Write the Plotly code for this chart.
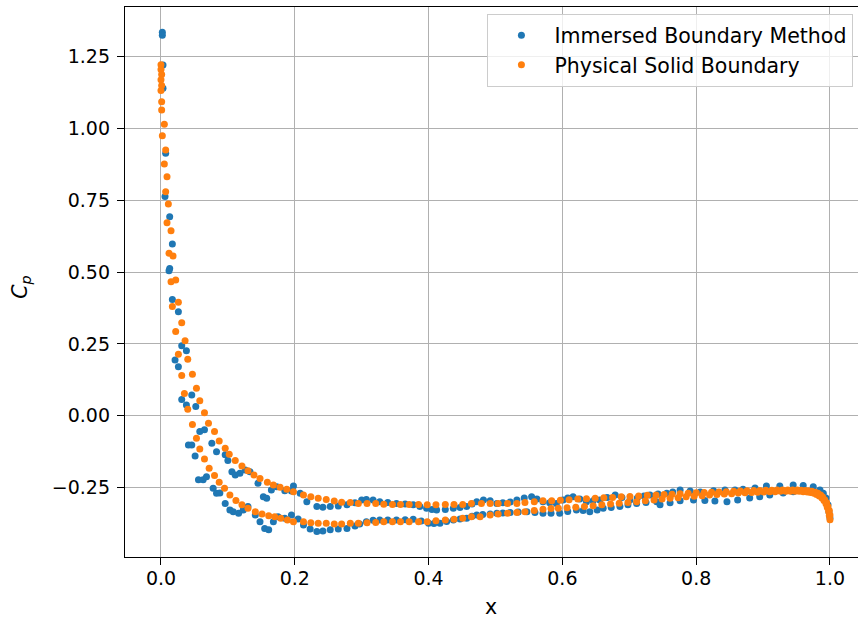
import plotly.graph_objects as go

# ---------------- data ----------------
# Physical Solid Boundary, branch with higher Cp (incl. leading-edge cluster)
psb_a_x = [0.000, 0.000, 0.001, 0.000, 0.001, 0.000, 0.001, 0.001, 0.005, 0.002,
           0.007, 0.005, 0.009, 0.007, 0.011, 0.009, 0.015, 0.012, 0.018,
           0.022, 0.026, 0.031, 0.036, 0.040, 0.047, 0.053, 0.058, 0.065, 0.071,
           0.080, 0.087, 0.096, 0.102, 0.111, 0.121, 0.130, 0.139, 0.148, 0.159,
           0.168, 0.178, 0.188, 0.198, 0.213, 0.224, 0.235, 0.247, 0.259, 0.270,
           0.283, 0.295, 0.308, 0.321, 0.333, 0.346, 0.358, 0.371, 0.385, 0.398,
           0.411, 0.425, 0.438, 0.451, 0.464, 0.479, 0.492, 0.504, 0.518, 0.532,
           0.544, 0.558, 0.571, 0.584,
           0.597, 0.610, 0.623, 0.636, 0.649, 0.662, 0.675, 0.688, 0.701, 0.714,
           0.727, 0.740, 0.752, 0.764, 0.776, 0.788, 0.800, 0.812, 0.823, 0.834,
           0.845, 0.856, 0.866, 0.876, 0.886, 0.895, 0.904, 0.913, 0.921, 0.929,
           0.937, 0.944, 0.951, 0.957, 0.963, 0.968, 0.973, 0.978, 0.982, 0.986,
           0.989, 0.992, 0.995, 0.997, 0.999, 1.000]
psb_a_cp = [1.222, 1.205, 1.188, 1.170, 1.150, 1.132, 1.093, 1.064, 1.015, 0.975,
            0.925, 0.876, 0.832, 0.780, 0.737, 0.672, 0.644, 0.566, 0.556,
            0.473, 0.395, 0.324, 0.261, 0.197, 0.145, 0.096, 0.052, 0.011, -0.026,
            -0.055, -0.088, -0.113, -0.134, -0.156, -0.175, -0.191, -0.206, -0.218, -0.231,
            -0.241, -0.249, -0.256, -0.264, -0.276, -0.282, -0.287, -0.291, -0.297, -0.301,
            -0.302, -0.305, -0.305, -0.305, -0.308, -0.309, -0.309, -0.309, -0.309, -0.310,
            -0.310, -0.309, -0.309, -0.309, -0.305, -0.305, -0.305, -0.305, -0.305, -0.305,
            -0.302, -0.299, -0.296, -0.296,
            -0.294, -0.292, -0.290, -0.289, -0.287, -0.285, -0.284, -0.282, -0.281, -0.279,
            -0.277, -0.276, -0.274, -0.273, -0.271, -0.270, -0.268, -0.267, -0.266, -0.265,
            -0.264, -0.263, -0.262, -0.261, -0.260, -0.260, -0.259, -0.259, -0.258, -0.258,
            -0.258, -0.258, -0.258, -0.259, -0.260, -0.261, -0.263, -0.266, -0.270, -0.276,
            -0.283, -0.292, -0.303, -0.316, -0.330, -0.345]

# Physical Solid Boundary, branch with lower Cp
psb_b_x = [0.015, 0.017, 0.022, 0.026, 0.031, 0.035, 0.040, 0.047, 0.053, 0.058,
           0.065, 0.072, 0.080, 0.087, 0.095, 0.103, 0.112, 0.121, 0.130, 0.141,
           0.151, 0.161, 0.170, 0.179, 0.189, 0.198, 0.213, 0.224, 0.235, 0.247,
           0.259, 0.270, 0.283, 0.295, 0.308, 0.321, 0.333, 0.346, 0.358, 0.371,
           0.385, 0.398, 0.411, 0.425, 0.438, 0.451, 0.464, 0.477, 0.492, 0.504,
           0.518, 0.532, 0.544, 0.558, 0.571, 0.583, 0.594,
           0.607, 0.620, 0.633, 0.646, 0.659, 0.672, 0.685, 0.698, 0.711, 0.724,
           0.737, 0.749, 0.761, 0.773, 0.785, 0.797, 0.809, 0.820, 0.831, 0.842,
           0.853, 0.863, 0.873, 0.883, 0.892, 0.901, 0.910, 0.918, 0.926, 0.934,
           0.941, 0.948, 0.954, 0.960, 0.966, 0.971, 0.976, 0.980, 0.984, 0.988,
           0.991, 0.994, 0.996, 0.998, 0.999, 1.000]
psb_b_cp = [0.467, 0.380, 0.293, 0.214, 0.140, 0.078, 0.023, -0.030, -0.078, -0.116,
            -0.150, -0.183, -0.208, -0.231, -0.252, -0.276, -0.295, -0.310, -0.322, -0.334,
            -0.342, -0.348, -0.351, -0.357, -0.363, -0.369, -0.369, -0.372, -0.374, -0.374,
            -0.377, -0.377, -0.374, -0.374, -0.372, -0.371, -0.369, -0.369, -0.369, -0.369,
            -0.369, -0.369, -0.365, -0.363, -0.360, -0.357, -0.351, -0.351, -0.345, -0.342,
            -0.339, -0.337, -0.334, -0.330, -0.325, -0.323, -0.322,
            -0.320, -0.318, -0.316, -0.313, -0.310, -0.307, -0.304, -0.302, -0.299, -0.296,
            -0.293, -0.290, -0.287, -0.285, -0.282, -0.280, -0.278, -0.276, -0.274, -0.272,
            -0.271, -0.269, -0.268, -0.267, -0.266, -0.265, -0.264, -0.264, -0.263, -0.263,
            -0.263, -0.263, -0.263, -0.264, -0.265, -0.267, -0.270, -0.274, -0.279, -0.286,
            -0.295, -0.306, -0.319, -0.333, -0.348, -0.362]

# Immersed Boundary Method, leading-edge region
ibm_le_x = [0.002, 0.002, 0.003, 0.003, 0.007, 0.006, 0.013, 0.017, 0.013, 0.012,
            0.017, 0.026, 0.031, 0.038, 0.021, 0.026, 0.031, 0.038, 0.046, 0.052,
            0.058, 0.065, 0.041, 0.046, 0.051, 0.076, 0.083, 0.096, 0.056, 0.063,
            0.068, 0.078, 0.083, 0.088, 0.100, 0.106, 0.111, 0.118, 0.126, 0.133,
            0.145, 0.153, 0.158, 0.165, 0.173, 0.185, 0.195]
ibm_le_cp = [1.335, 1.325, 1.221, 1.140, 0.914, 0.763, 0.693, 0.598, 0.513, 0.505,
             0.405, 0.362, 0.244, 0.226, 0.194, 0.171, 0.057, 0.038, 0.072, 0.032,
             -0.055, -0.049, -0.102, -0.102, -0.140, -0.096, -0.125, -0.136, -0.223, -0.223,
             -0.212, -0.252, -0.270, -0.269, -0.156, -0.195, -0.206, -0.200, -0.189, -0.195,
             -0.235, -0.282, -0.287, -0.258, -0.247, -0.261, -0.262]

# Immersed Boundary Method, higher-Cp branch downstream
ibm_a_x = [0.198, 0.208, 0.218, 0.233, 0.242, 0.253, 0.265, 0.278, 0.290, 0.300,
           0.307, 0.317, 0.327, 0.339, 0.352, 0.365, 0.377, 0.387, 0.397, 0.405,
           0.412, 0.425, 0.437, 0.447, 0.457, 0.465, 0.472, 0.482, 0.492, 0.502,
           0.511, 0.522, 0.532, 0.543, 0.554, 0.562, 0.571, 0.581, 0.591, 0.601,
           0.608, 0.616, 0.626, 0.636, 0.646, 0.656, 0.667, 0.679, 0.689, 0.701,
           0.712, 0.722, 0.731, 0.743, 0.756, 0.765, 0.776, 0.791, 0.806, 0.826,
           0.843, 0.858, 0.870, 0.888, 0.905, 0.925, 0.945, 0.960, 0.975, 0.985,
           0.990, 0.994, 0.997, 0.9985, 1.000]
ibm_a_cp = [-0.244, -0.270, -0.299, -0.316, -0.318, -0.316, -0.314, -0.310, -0.303, -0.293,
            -0.291, -0.293, -0.299, -0.302, -0.305, -0.307, -0.310, -0.316, -0.322, -0.326,
            -0.328, -0.326, -0.322, -0.319, -0.316, -0.307, -0.299, -0.293, -0.296, -0.305,
            -0.303, -0.300, -0.293, -0.286, -0.282, -0.290, -0.299, -0.303, -0.305, -0.293,
            -0.286, -0.282, -0.290, -0.299, -0.296, -0.293, -0.284, -0.276, -0.284, -0.293,
            -0.286, -0.279, -0.276, -0.272, -0.270, -0.265, -0.258, -0.262, -0.265, -0.261,
            -0.258, -0.258, -0.256, -0.251, -0.244, -0.244, -0.241, -0.243, -0.247, -0.258,
            -0.270, -0.286, -0.310, -0.335, -0.356]

# Immersed Boundary Method, lower-Cp branch downstream
ibm_b_x = [0.096, 0.103, 0.108, 0.116, 0.123, 0.130, 0.141, 0.148, 0.155, 0.161,
           0.168, 0.175, 0.185, 0.195, 0.205, 0.213, 0.223, 0.233, 0.242, 0.253,
           0.265, 0.278, 0.290, 0.297, 0.307, 0.317, 0.327, 0.339, 0.352, 0.365,
           0.377, 0.389, 0.400, 0.408, 0.417, 0.427, 0.437, 0.447, 0.457, 0.465,
           0.472, 0.481, 0.492, 0.502, 0.511, 0.522, 0.534, 0.547, 0.559, 0.571,
           0.583, 0.596, 0.608, 0.621, 0.631, 0.641, 0.652, 0.661, 0.673, 0.686,
           0.698, 0.711, 0.725, 0.741, 0.746, 0.761, 0.776, 0.796, 0.813, 0.828,
           0.846, 0.862, 0.880, 0.895, 0.910, 0.930, 0.945, 0.963, 0.978]
ibm_b_cp = [-0.305, -0.328, -0.334, -0.339, -0.328, -0.316, -0.345, -0.369, -0.392, -0.397,
            -0.369, -0.351, -0.357, -0.345, -0.359, -0.380, -0.394, -0.403, -0.401, -0.397,
            -0.394, -0.392, -0.384, -0.377, -0.369, -0.364, -0.363, -0.363, -0.363, -0.362,
            -0.360, -0.366, -0.374, -0.375, -0.374, -0.368, -0.363, -0.359, -0.357, -0.350,
            -0.345, -0.344, -0.342, -0.339, -0.338, -0.337, -0.335, -0.334, -0.337, -0.339,
            -0.339, -0.339, -0.333, -0.328, -0.330, -0.334, -0.328, -0.322, -0.319, -0.316,
            -0.310, -0.305, -0.302, -0.299, -0.310, -0.303, -0.296, -0.293, -0.295, -0.297,
            -0.299, -0.293, -0.286, -0.282, -0.276, -0.269, -0.264, -0.262, -0.265]

x_ticks = [0.0, 0.2, 0.4, 0.6, 0.8, 1.0]
x_tick_labels = ["0.0", "0.2", "0.4", "0.6", "0.8", "1.0"]
y_ticks = [-0.25, 0.0, 0.25, 0.5, 0.75, 1.0, 1.25]
y_tick_labels = ["\u22120.25", "0.00", "0.25", "0.50", "0.75", "1.00", "1.25"]

# ---------------- figure ----------------
FONT = "DejaVu Sans"
ibm_x = ibm_le_x + ibm_a_x + ibm_b_x
ibm_cp = ibm_le_cp + ibm_a_cp + ibm_b_cp
psb_x = psb_a_x + psb_b_x
psb_cp = psb_a_cp + psb_b_cp

fig = go.Figure()
fig.add_trace(go.Scatter(x=ibm_x, y=ibm_cp, mode="markers",
                         name="Immersed Boundary Method",
                         marker=dict(color="#1f77b4", size=7, line=dict(width=0))))
fig.add_trace(go.Scatter(x=psb_x, y=psb_cp, mode="markers",
                         name="Physical Solid Boundary",
                         marker=dict(color="#ff7f0e", size=7, line=dict(width=0))))

axis_common = dict(
    ticks="outside", ticklen=7, tickwidth=1.4, tickcolor="black",
    showgrid=True, gridcolor="#b0b0b0", gridwidth=1.4,
    showline=True, linecolor="black", linewidth=1.4,
    zeroline=False, tickfont=dict(family=FONT, size=19, color="black"),
)

fig.update_layout(
    width=858, height=621,
    margin=dict(l=125, r=0, t=7, b=64),
    plot_bgcolor="white", paper_bgcolor="white",
    font=dict(family=FONT, color="black"),
    xaxis=dict(range=[-0.0538, 1.0419], tickvals=x_ticks, ticktext=x_tick_labels,
               mirror=True, ticklabelstandoff=-3, **axis_common),
    yaxis=dict(range=[-0.4915, 1.4229], tickvals=y_ticks, ticktext=y_tick_labels,
               ticklabelstandoff=3, **axis_common),
    legend=dict(x=0.9932, y=0.9873, xanchor="right", yanchor="top",
                bgcolor="rgba(255,255,255,0.8)", bordercolor="#cccccc", borderwidth=1.4,
                font=dict(family=FONT, size=20.5, color="black"),
                itemwidth=56, tracegroupgap=0),
    annotations=[
        dict(text="x", xref="paper", yref="paper", x=0.4993, y=-0.0909,
             xanchor="center", yanchor="middle", showarrow=False,
             font=dict(family=FONT, size=20.5, color="black")),
        dict(text="<i>C<sub>p</sub></i>", xref="paper", yref="paper", x=-0.142, y=0.491,
             xanchor="center", yanchor="middle", showarrow=False, textangle=-90,
             font=dict(family=FONT, size=20.5, color="black")),
    ],
)

fig.write_html("out.html", config={"displayModeBar": False},
               post_script="document.body.style.margin='0';document.body.style.overflow='hidden';")
